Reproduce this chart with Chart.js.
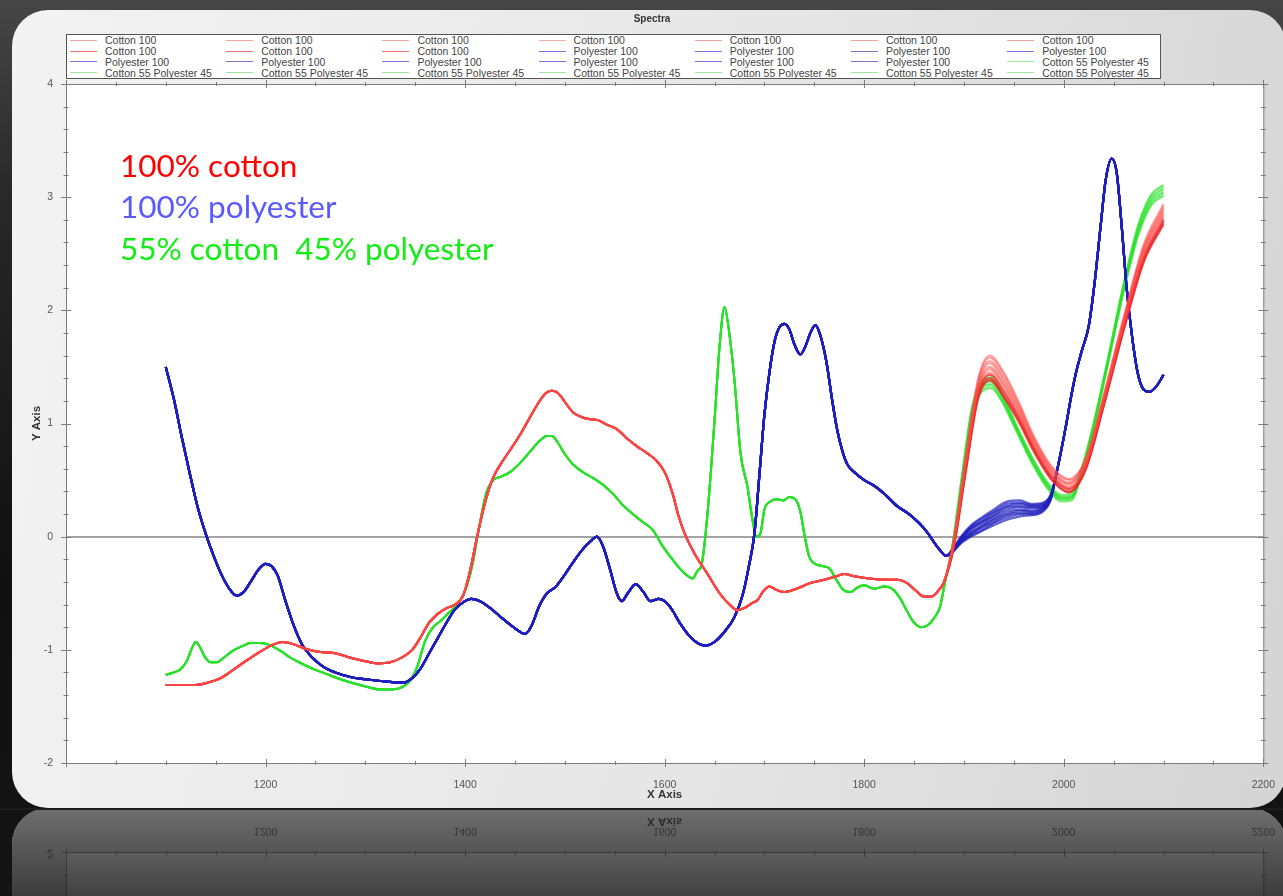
<!DOCTYPE html>
<html>
<head>
<meta charset="utf-8">
<script src="https://cdn.jsdelivr.net/npm/chart.js@4.4.0/dist/chart.umd.min.js"></script>
<style>
html, body { margin: 0; padding: 0; width: 1283px; height: 896px; overflow: hidden; }
body { position: relative; background: linear-gradient(180deg, #464646 0%, #282828 22%, #101010 65%, #141414 100%); font-family: "Liberation Sans", Arial, sans-serif; }
#panel { position: absolute; left: 12px; top: 10px; width: 1274px; height: 798px; border-radius: 36px;
  background: linear-gradient(100deg, #f3f3f3 0%, #e6e6e6 55%, #d4d4d4 100%); }
#chart { position: absolute; left: 0; top: 0; }
#reflect { position: absolute; left: 0; top: 808px; }
#title { position: absolute; left: 0; width: 1304px; top: 13px; text-align: center; font: bold 10px "Liberation Sans", Arial, sans-serif; color: #333; }
#legend { position: absolute; left: 66px; top: 34px; width: 1095px; height: 45px; box-sizing: border-box; border: 1px solid #555; background: #fff;
  display: grid; grid-template-columns: repeat(7, 156.2px); grid-auto-rows: 10.8px; }
.item { display: flex; align-items: center; font: 10.5px "Liberation Sans", Arial, sans-serif; color: #444; white-space: nowrap; }
.item i { display: inline-block; width: 27px; height: 1px; margin: 0 8px 0 3px; }
.note { position: absolute; left: 120px; font: 31.5px Lato, "Open Sans", sans-serif; line-height: 30px; white-space: pre; }
</style>
</head>
<body>
<div id="panel"></div>
<canvas id="chart" width="1283" height="808"></canvas>
<canvas id="reflect" width="1283" height="88"></canvas>
<div id="title">Spectra</div>
<div id="legend"></div>
<div class="note" style="top:150px;color:#ff0000">100% cotton</div>
<div class="note" style="top:191px;color:#5a5aff">100% polyester</div>
<div class="note" style="top:233px;color:#11ee11">55% cotton  45% polyester</div>
<script>
// wavenumber / value pairs
const polyWn = [1100,1108,1116,1124,1132,1141,1148,1155,1163,1171,
  1178,1185,1193,1200,1206,1212,1220,1228,1237,1247,
  1258,1270,1285,1300,1320,1338,1347,1355,1364,1373,
  1382,1390,1398,1406,1415,1425,1437,1450,1460,1467,
  1474,1482,1490,1498,1508,1518,1527,1532,1538,1545,
  1552,1557,1563,1571,1578,1586,1594,1600,1607,1615,
  1625,1635,1642,1650,1660,1670,1678,1684,1690,1695,
  1700,1705,1710,1715,1720,1725,1730,1736,1741,1746,
  1751,1756,1762,1768,1773,1778,1783,1790,1800,1810,
  1820,1833,1845,1855,1863,1870,1876,1882,
  1992,2002,2007,2012,2018,2025,2031,2037,2042,2048,
  2053,2058,2063,2068,2074,2080,2086,2093,2100];
const polyBase = [1.50,1.22,0.88,0.56,0.26,0.00,-0.17,-0.32,-0.45,-0.52,
  -0.49,-0.40,-0.29,-0.24,-0.26,-0.34,-0.57,-0.78,-0.96,-1.07,
  -1.15,-1.20,-1.24,-1.26,-1.28,-1.29,-1.25,-1.17,-1.03,-0.89,
  -0.75,-0.64,-0.58,-0.55,-0.57,-0.63,-0.72,-0.81,-0.86,-0.78,
  -0.62,-0.50,-0.45,-0.36,-0.23,-0.11,-0.03,0.00,-0.08,-0.28,
  -0.50,-0.57,-0.50,-0.42,-0.48,-0.57,-0.55,-0.57,-0.64,-0.76,
  -0.88,-0.95,-0.96,-0.93,-0.84,-0.71,-0.52,-0.28,0.03,0.55,
  1.08,1.45,1.72,1.85,1.88,1.83,1.70,1.61,1.68,1.80,
  1.87,1.78,1.55,1.20,0.94,0.76,0.64,0.57,0.50,0.45,
  0.38,0.27,0.20,0.12,0.04,-0.05,-0.12,-0.17,
  0.53,0.97,1.22,1.44,1.64,1.86,2.25,2.75,3.15,3.34,
  3.22,2.75,2.20,1.80,1.45,1.30,1.28,1.33,1.43];

const cottonWn = [1100,1115,1130,1142,1155,1167,1180,1194,1206,1217,
  1228,1240,1255,1270,1285,1300,1312,1325,1336,1347,
  1356,1364,1373,1382,1390,1398,1405,1412,1420,1428,
  1437,1447,1457,1466,1474,1481,1487,1493,1500,1508,
  1516,1524,1533,1542,1552,1562,1572,1582,1592,1600,
  1608,1614,1620,1630,1643,1655,1665,1673,1680,1687,
  1693,1699,1705,1712,1720,1732,1746,1760,1772,1780,
  1790,1805,1820,1833,1843,1852,1860,1867,1874,1880];
const cottonBase = [-1.31,-1.31,-1.31,-1.29,-1.25,-1.18,-1.10,-1.02,-0.96,-0.93,
  -0.95,-0.99,-1.02,-1.03,-1.07,-1.10,-1.12,-1.11,-1.07,-1.00,
  -0.88,-0.76,-0.68,-0.63,-0.60,-0.52,-0.30,0.00,0.30,0.52,
  0.66,0.79,0.93,1.07,1.19,1.27,1.29,1.27,1.19,1.10,
  1.06,1.04,1.03,0.99,0.95,0.87,0.80,0.74,0.67,0.57,
  0.38,0.18,0.03,-0.15,-0.33,-0.50,-0.60,-0.65,-0.63,-0.59,
  -0.56,-0.48,-0.44,-0.47,-0.49,-0.46,-0.41,-0.38,-0.35,-0.33,
  -0.35,-0.37,-0.38,-0.38,-0.41,-0.48,-0.53,-0.53,-0.48,-0.40];

const blendWn = [1100,1108,1115,1121,1126,1130,1134,1139,1145,1151,
  1158,1167,1176,1185,1195,1205,1215,1225,1236,1248,
  1260,1275,1290,1303,1315,1327,1337,1345,1352,1360,
  1368,1376,1384,1392,1400,1407,1414,1421,1428,1436,
  1445,1455,1465,1474,1482,1487,1493,1500,1508,1518,
  1528,1538,1548,1558,1568,1578,1588,1597,1606,1615,
  1622,1628,1633,1637,1643,1650,1655,1660,1664,1670,
  1676,1683,1688,1692,1696,1700,1706,1713,1719,1725,
  1731,1736,1740,1745,1751,1758,1765,1772,1779,1786,
  1793,1800,1810,1820,1828,1835,1843,1850,1857,1864,
  1870,1876,1881];
const blendBase = [-1.22,-1.20,-1.17,-1.10,-0.99,-0.93,-0.97,-1.06,-1.11,-1.11,
  -1.07,-1.01,-0.97,-0.94,-0.94,-0.96,-1.01,-1.07,-1.12,-1.17,
  -1.21,-1.26,-1.30,-1.33,-1.35,-1.35,-1.33,-1.27,-1.15,-0.92,
  -0.80,-0.74,-0.67,-0.60,-0.48,-0.26,0.08,0.38,0.50,0.53,
  0.57,0.65,0.75,0.84,0.89,0.89,0.83,0.73,0.64,0.57,
  0.52,0.46,0.38,0.28,0.20,0.13,0.06,-0.07,-0.18,-0.28,
  -0.34,-0.37,-0.30,-0.25,0.21,1.03,1.68,2.03,1.85,1.38,
  0.74,0.44,0.15,0.00,0.03,0.24,0.31,0.33,0.32,0.35,
  0.33,0.22,0.02,-0.18,-0.24,-0.26,-0.28,-0.38,-0.47,-0.49,
  -0.45,-0.43,-0.46,-0.44,-0.46,-0.53,-0.66,-0.76,-0.80,-0.78,
  -0.72,-0.62,-0.40];

// where the replicates fan out, each one read separately
const polyBandWn = [1888,1897,1907,1918,1930,1943,1956,1968,1979,1987];
const polyBands = [
  [-0.12,0.00,0.10,0.17,0.24,0.31,0.32,0.29,0.30,0.37],
  [-0.12,-0.01,0.09,0.16,0.22,0.29,0.30,0.28,0.29,0.37],
  [-0.12,-0.01,0.08,0.14,0.21,0.27,0.29,0.27,0.28,0.36],
  [-0.13,-0.02,0.07,0.13,0.19,0.26,0.27,0.26,0.27,0.36],
  [-0.13,-0.03,0.06,0.12,0.18,0.24,0.26,0.25,0.26,0.35],
  [-0.13,-0.03,0.04,0.10,0.16,0.22,0.24,0.23,0.26,0.35],
  [-0.13,-0.04,0.03,0.09,0.15,0.20,0.23,0.22,0.25,0.34],
  [-0.14,-0.05,0.02,0.08,0.13,0.19,0.21,0.21,0.24,0.34],
  [-0.14,-0.05,0.01,0.06,0.12,0.17,0.20,0.20,0.23,0.33],
  [-0.14,-0.06,0.00,0.05,0.10,0.15,0.18,0.19,0.22,0.33]
];
const cottonBandWn = [1890,1902,1914,1926,1940,1955,1970,1988,2005,2022,2040,2060,2080,2100];
const cottonBands = [
  [-0.01,0.72,1.39,1.60,1.45,1.19,0.89,0.62,0.51,0.69,1.25,1.94,2.58,2.94],
  [-0.02,0.70,1.37,1.58,1.43,1.17,0.87,0.61,0.50,0.68,1.24,1.93,2.56,2.92],
  [-0.03,0.69,1.35,1.55,1.40,1.15,0.86,0.59,0.48,0.67,1.23,1.91,2.54,2.90],
  [-0.04,0.67,1.33,1.53,1.38,1.13,0.84,0.58,0.47,0.66,1.22,1.90,2.53,2.88],
  [-0.05,0.66,1.31,1.50,1.35,1.11,0.83,0.57,0.46,0.65,1.21,1.89,2.51,2.86],
  [-0.05,0.64,1.29,1.48,1.33,1.09,0.81,0.55,0.44,0.63,1.19,1.87,2.49,2.84],
  [-0.06,0.63,1.27,1.45,1.30,1.07,0.80,0.54,0.43,0.62,1.18,1.86,2.47,2.82],
  [-0.07,0.61,1.25,1.43,1.28,1.05,0.78,0.53,0.42,0.61,1.17,1.85,2.46,2.80],
  [-0.08,0.60,1.23,1.40,1.25,1.03,0.77,0.51,0.40,0.60,1.16,1.83,2.44,2.78],
  [-0.09,0.58,1.21,1.38,1.23,1.01,0.75,0.50,0.39,0.59,1.15,1.82,2.42,2.76]
];
const blendBandWn = [1888,1898,1908,1918,1927,1938,1953,1968,1983,1998,2008,2018,2030,2045,2060,2075,2088,2100];
const blendBands = [
  [-0.09,0.55,1.15,1.38,1.41,1.27,0.98,0.71,0.49,0.37,0.38,0.61,1.01,1.61,2.24,2.77,3.03,3.11],
  [-0.10,0.54,1.14,1.37,1.40,1.26,0.97,0.70,0.48,0.36,0.37,0.60,1.00,1.60,2.23,2.76,3.02,3.10],
  [-0.11,0.52,1.12,1.35,1.38,1.25,0.96,0.69,0.47,0.35,0.36,0.59,0.99,1.59,2.22,2.74,3.00,3.08],
  [-0.12,0.51,1.11,1.34,1.37,1.24,0.95,0.68,0.46,0.34,0.35,0.58,0.98,1.58,2.21,2.73,2.99,3.07],
  [-0.12,0.49,1.09,1.32,1.35,1.22,0.95,0.68,0.46,0.34,0.35,0.58,0.98,1.58,2.19,2.71,2.97,3.05],
  [-0.13,0.48,1.08,1.31,1.34,1.21,0.94,0.67,0.45,0.33,0.34,0.57,0.97,1.57,2.18,2.70,2.96,3.04],
  [-0.14,0.46,1.06,1.29,1.32,1.20,0.93,0.66,0.44,0.32,0.33,0.56,0.96,1.56,2.17,2.68,2.94,3.02],
  [-0.15,0.45,1.05,1.28,1.31,1.19,0.92,0.65,0.43,0.31,0.32,0.55,0.95,1.55,2.16,2.67,2.93,3.01]
];

const cottonColors = ['rgba(255,70,70,0.5)','rgba(255,70,70,0.5)','rgba(255,70,70,0.5)','rgba(240,90,70,0.5)',
  'rgba(255,60,60,0.5)','rgba(255,60,60,0.5)','rgba(255,60,60,0.5)','rgba(230,40,40,0.8)','rgba(230,40,40,0.8)','rgba(230,40,40,0.8)'];
const polyColor = 'rgba(30,30,190,0.7)';
const blendColor = 'rgba(40,225,40,0.5)';
const legendSwatch = { 'Cotton 100': ['#f7a4a4','#f7a4a4','#f7a4a4','#f0b0a0','#f5a0a0','#f5a0a0','#f5a0a0','#ee7070','#ee7070','#ee7070'],
  'Polyester 100': '#7878d8', 'Cotton 55 Polyester 45': '#9ee89e' };

const spliceBand = (wn, base, bandWn, band) => {
    const lo = bandWn[0], hi = bandWn[bandWn.length - 1];
    const pts = [];
    wn.forEach((x, i) => { if (x < lo) pts.push({ x, y: base[i] }); });
    bandWn.forEach((x, i) => pts.push({ x, y: band[i] }));
    wn.forEach((x, i) => { if (x > hi) pts.push({ x, y: base[i] }); });
    return pts;
};

const datasets = [];
cottonBands.forEach((b, i) => datasets.push({ label: 'Cotton 100', data: spliceBand(cottonWn, cottonBase, cottonBandWn, b), borderColor: cottonColors[i], borderWidth: 2, swatch: legendSwatch['Cotton 100'][i] }));
polyBands.forEach(b => datasets.push({ label: 'Polyester 100', data: spliceBand(polyWn, polyBase, polyBandWn, b), borderColor: polyColor, borderWidth: 2.2, swatch: legendSwatch['Polyester 100'] }));
blendBands.forEach(b => datasets.push({ label: 'Cotton 55 Polyester 45', data: spliceBand(blendWn, blendBase, blendBandWn, b), borderColor: blendColor, borderWidth: 2, swatch: legendSwatch['Cotton 55 Polyester 45'] }));

Chart.defaults.font.family = '"Liberation Sans", Arial, sans-serif';

const plotBackground = {
    id: 'plotBackground',
    beforeDraw: (chart) => {
        const { ctx, chartArea: a } = chart;
        ctx.save();
        ctx.fillStyle = '#fff';
        ctx.fillRect(a.left, a.top, a.right - a.left, a.bottom - a.top);
        ctx.restore();
    }
};

// box frame with cross ticks on all four sides
const frameTicks = {
    id: 'frameTicks',
    afterDraw: (chart) => {
        const { ctx, chartArea: a, scales: { x, y } } = chart;
        ctx.save();
        ctx.strokeStyle = '#7c7c7c';
        ctx.lineWidth = 1;
        ctx.strokeRect(a.left + 0.5, a.top + 0.5, a.right - a.left, a.bottom - a.top);
        ctx.beginPath();
        x.ticks.forEach(t => {
            const px = Math.round(x.getPixelForValue(t.value)) + 0.5;
            const len = t.value % 200 === 0 ? 4 : 2;
            ctx.moveTo(px, a.bottom - len); ctx.lineTo(px, a.bottom + len);
            ctx.moveTo(px, a.top - len); ctx.lineTo(px, a.top + len);
        });
        y.ticks.forEach(t => {
            const py = Math.round(y.getPixelForValue(t.value)) + 0.5;
            const len = Math.abs(t.value - Math.round(t.value)) < 1e-6 ? 5 : 2.5;
            ctx.moveTo(a.left - len, py); ctx.lineTo(a.left + len, py);
            ctx.moveTo(a.right - len, py); ctx.lineTo(a.right + len, py);
        });
        ctx.stroke();
        ctx.restore();
    }
};

const htmlLegend = {
    id: 'htmlLegend',
    afterUpdate: (chart) => {
        const box = document.getElementById('legend');
        box.innerHTML = '';
        chart.data.datasets.forEach(ds => {
            const item = document.createElement('div');
            item.className = 'item';
            const swatch = document.createElement('i');
            swatch.style.background = ds.swatch;
            item.appendChild(swatch);
            item.appendChild(document.createTextNode(ds.label));
            box.appendChild(item);
        });
    }
};

// slide reflection under the panel
const reflection = {
    id: 'reflection',
    afterRender: (chart) => {
        const c = document.getElementById('reflect');
        const rc = c.getContext('2d');
        rc.clearRect(0, 0, c.width, c.height);
        rc.save();
        rc.beginPath();
        rc.roundRect(12, 0, 1274, 200, [36, 36, 0, 0]);
        rc.clip();
        rc.fillStyle = '#e0e0e0';
        rc.fillRect(0, 0, c.width, c.height);
        rc.save();
        rc.scale(1, -1);
        rc.drawImage(chart.canvas, 0, 720, 1283, 88, 0, -88, 1283, 88);
        rc.restore();
        const g = rc.createLinearGradient(0, 0, 0, c.height);
        g.addColorStop(0, 'rgba(40,40,40,0.62)');
        g.addColorStop(1, 'rgba(28,28,28,0.84)');
        rc.fillStyle = g;
        rc.fillRect(0, 0, c.width, c.height);
        rc.restore();
        rc.fillStyle = '#1c1c1c';
        rc.fillRect(0, 0, c.width, 2);
    }
};

const isWhole = v => Math.abs(v - Math.round(v)) < 1e-6;

new Chart(document.getElementById('chart'), {
    type: 'line',
    data: { datasets },
    options: {
        responsive: false,
        animation: false,
        layout: { padding: { left: 20, right: 16, top: 84, bottom: 0 } },
        elements: { point: { radius: 0 }, line: { cubicInterpolationMode: 'monotone' } },
        plugins: { legend: { display: false }, title: { display: false }, tooltip: { enabled: false } },
        scales: {
            x: {
                type: 'linear', min: 1000, max: 2200,
                afterFit: (s) => { s.height = 45; },
                grid: { display: false },
                border: { display: false },
                ticks: { stepSize: 50, autoSkip: false, maxRotation: 0, padding: 8, color: '#555', font: { size: 10.5 },
                    callback: v => (v % 200 === 0 && v !== 1000) ? v : '' },
                title: { display: true, text: 'X Axis', color: '#333', font: { size: 11.5, weight: 'bold' }, padding: { top: 0, bottom: 6 } }
            },
            y: {
                min: -2, max: 4,
                afterFit: (s) => { s.width = 46; },
                grid: { drawTicks: false, lineWidth: 2, color: c => (c.tick && Math.abs(c.tick.value) < 1e-9) ? '#a4a4a4' : 'rgba(0,0,0,0)' },
                border: { display: false },
                ticks: { stepSize: 0.2, autoSkip: false, padding: 13, color: '#555', font: { size: 10.5 },
                    callback: v => isWhole(v) ? Math.round(v) : '' },
                title: { display: true, text: 'Y Axis', color: '#333', font: { size: 11.5, weight: 'bold' }, padding: { top: 10, bottom: 0 } }
            }
        }
    },
    plugins: [plotBackground, frameTicks, htmlLegend, reflection]
});
</script>
</body>
</html>
